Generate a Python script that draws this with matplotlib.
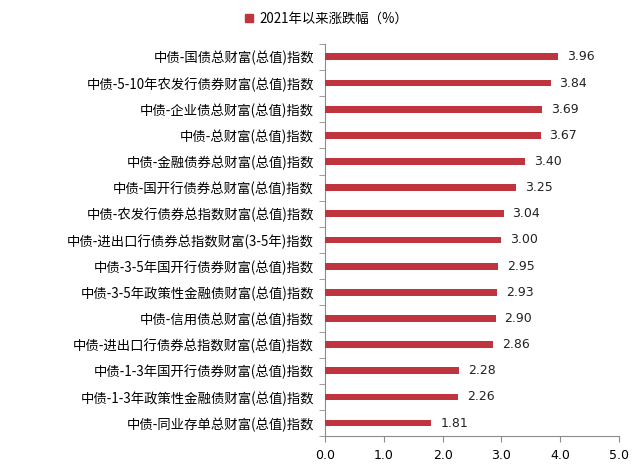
import matplotlib.pyplot as plt
import numpy as np
from matplotlib.patches import Rectangle

plt.rcParams["font.family"] = ["Noto Sans CJK SC", "DejaVu Sans"]

names = [
    "中债-国债总财富(总值)指数",
    "中债-5-10年农发行债券财富(总值)指数",
    "中债-企业债总财富(总值)指数",
    "中债-总财富(总值)指数",
    "中债-金融债券总财富(总值)指数",
    "中债-国开行债券总财富(总值)指数",
    "中债-农发行债券总指数财富(总值)指数",
    "中债-进出口行债券总指数财富(3-5年)指数",
    "中债-3-5年国开行债券财富(总值)指数",
    "中债-3-5年政策性金融债财富(总值)指数",
    "中债-信用债总财富(总值)指数",
    "中债-进出口行债券总指数财富(总值)指数",
    "中债-1-3年国开行债券财富(总值)指数",
    "中债-1-3年政策性金融债财富(总值)指数",
    "中债-同业存单总财富(总值)指数",
]
values = [3.96, 3.84, 3.69, 3.67, 3.40, 3.25, 3.04, 3.00, 2.95, 2.93, 2.90, 2.86, 2.28, 2.26, 1.81]
legend_label = "2021年以来涨跌幅（%）"

bar_color = "#C0353D"
axis_color = "#8C8C8C"

fig = plt.figure(figsize=(6.4, 4.66), dpi=100)
ax = fig.add_axes([0.508, 0.064, 0.459, 0.842])

y = np.arange(len(names))[::-1]
ax.barh(y, values, height=0.26, color=bar_color, zorder=3)
for yi, v in zip(y, values):
    ax.text(v + 0.15, yi, f"{v:.2f}", va="center", ha="left", fontsize=9,
            family=["DejaVu Sans"], color="#222222")

ax.set_xlim(0, 5)
ax.set_ylim(-0.5, len(names) - 0.5)
ax.set_xticks(np.arange(0, 5.01, 1.0))
ax.set_xticklabels([f"{t:.1f}" for t in np.arange(0, 5.01, 1.0)], fontsize=9,
                   family=["DejaVu Sans"])
ax.set_yticks(y)
ax.set_yticklabels(names, fontsize=9.6)
ax.tick_params(axis="y", length=0, pad=8)
ax.set_yticks(np.arange(-0.5, len(names)), minor=True)
ax.tick_params(axis="y", which="minor", length=4, color=axis_color)
ax.tick_params(axis="x", length=4, color=axis_color, pad=5)

for s in ["top", "right"]:
    ax.spines[s].set_visible(False)
for s in ["left", "bottom"]:
    ax.spines[s].set_color(axis_color)
    ax.spines[s].set_linewidth(0.8)

handle = Rectangle((0, 0), 1, 1, color=bar_color)
fig.legend([handle], [legend_label], loc="center", bbox_to_anchor=(0.51, 0.96),
           frameon=False, fontsize=9.6, handlelength=0.6, handleheight=0.6,
           handletextpad=0.5)

fig.savefig("out.png", dpi=100)
